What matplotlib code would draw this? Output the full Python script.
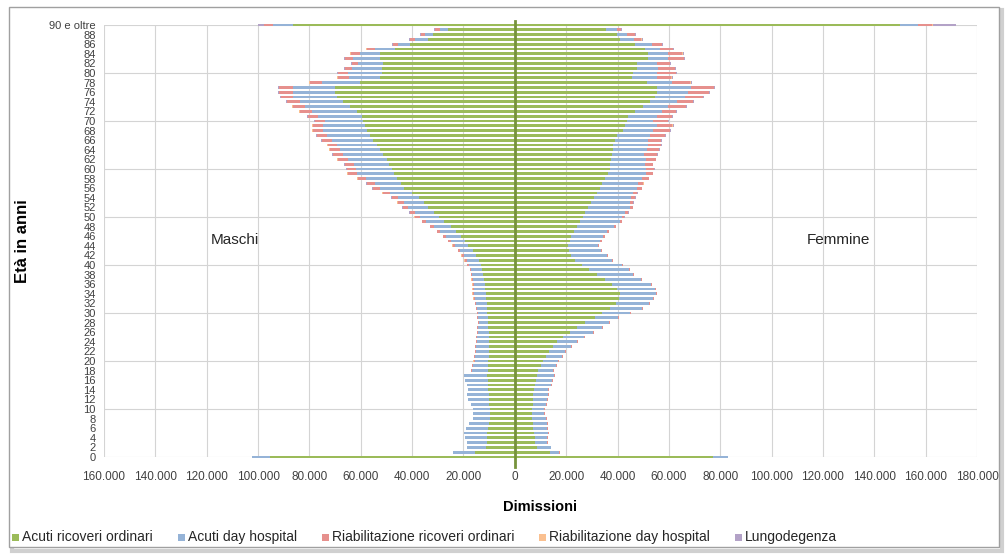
import matplotlib.pyplot as plt
import numpy as np
from matplotlib.patches import Rectangle
from matplotlib.ticker import FuncFormatter

plt.rcParams['font.family'] = ['Liberation Sans', 'DejaVu Sans']

# eta' 0 .. 89, poi "90 e oltre"
eta = list(range(91))
eta_lab = [str(a) if a < 90 else '90 e oltre' for a in eta]

# Maschi
m_acuti_ord = [95300, 15600, 11300, 10900, 10900, 10900, 10500, 10100, 9700, 9700,
               9700, 10100, 10100, 10100, 10500, 10500, 10500, 10900, 10500, 10500,
               10500, 10100, 10100, 10100, 10100, 10100, 10100, 10500, 10500, 10500,
               10900, 10900, 10900, 11300, 11300, 11700, 11700, 12100, 12400, 12800,
               13200, 14000, 15200, 16300, 18300, 19500, 21000, 23000, 24900, 27600,
               29600, 31500, 33800, 35400, 37300, 40100, 43200, 44300, 45900, 47100,
               47800, 49000, 49800, 51300, 52500, 53700, 55200, 56400, 57600, 58400,
               59100, 59500, 61500, 64200, 66900, 69200, 70000, 70000, 60300, 52500,
               51700, 51700, 51300, 52500, 52500, 46700, 40800, 33800, 31900, 26100,
               86400]
m_acuti_dh = [6900, 8400, 7200, 7600, 8400, 8800, 8400, 7600, 6400, 6400,
              6400, 6800, 8000, 8400, 7600, 8000, 8800, 8800, 6200, 5800,
              5100, 5400, 5100, 5100, 4700, 4700, 4300, 3900, 3500, 3900,
              3500, 3900, 4300, 4300, 4700, 4300, 4300, 4300, 4300, 4300,
              4700, 4700, 4700, 5100, 5100, 5400, 5800, 6200, 6600, 7000,
              7400, 7400, 7800, 7800, 8200, 8600, 9300, 10100, 12100, 14400,
              14000, 13600, 15200, 15600, 15600, 15600, 15900, 16700, 17100, 16300,
              14800, 17100, 17500, 17500, 16700, 17100, 16300, 16300, 14800, 12100,
              13200, 11700, 9700, 10500, 7800, 7800, 4700, 5100, 3100, 3100,
              7800]
m_riab_ord = [100, 200, 200, 200, 200, 200, 200, 200, 200, 200,
              200, 200, 200, 200, 200, 200, 200, 200, 400, 400,
              400, 400, 400, 400, 400, 400, 400, 400, 400, 400,
              400, 400, 400, 400, 400, 400, 400, 400, 400, 400,
              800, 800, 800, 800, 800, 1200, 1200, 1200, 1600, 1600,
              1900, 1900, 1900, 2300, 2300, 2700, 2700, 3100, 3100, 3500,
              3500, 3500, 3900, 3900, 3900, 3500, 3900, 3900, 3900, 3900,
              3900, 3900, 4700, 4700, 5100, 4700, 5400, 5400, 4700, 4300,
              3900, 2700, 2300, 3100, 3500, 3100, 1900, 1900, 1600, 1900,
              3400]
m_riab_dh = [0, 0, 0, 0, 0, 0, 0, 0, 0, 0,
             0, 0, 0, 0, 0, 0, 0, 0, 100, 100,
             100, 100, 100, 100, 100, 100, 100, 100, 100, 100,
             100, 100, 100, 100, 100, 100, 100, 100, 100, 100,
             100, 100, 100, 100, 100, 100, 100, 100, 100, 100,
             200, 200, 200, 200, 200, 200, 200, 200, 200, 200,
             200, 200, 200, 200, 200, 200, 200, 200, 200, 200,
             200, 200, 200, 200, 200, 200, 200, 200, 200, 200,
             200, 200, 200, 200, 200, 200, 100, 100, 100, 100,
             200]
m_lungo = [0, 0, 0, 0, 0, 0, 0, 0, 0, 0,
           0, 0, 0, 0, 0, 0, 0, 0, 0, 0,
           0, 0, 0, 0, 0, 0, 0, 0, 0, 0,
           0, 0, 0, 0, 0, 0, 0, 0, 0, 0,
           0, 0, 0, 0, 0, 0, 0, 0, 0, 0,
           100, 100, 100, 100, 100, 100, 100, 100, 100, 100,
           100, 100, 100, 200, 200, 200, 200, 200, 200, 200,
           200, 200, 300, 300, 300, 300, 300, 300, 300, 300,
           300, 300, 300, 300, 300, 300, 300, 300, 300, 300,
           2300]

# Femmine
f_acuti_ord = [77000, 13600, 8600, 7800, 7800, 7400, 7000, 7000, 6600, 6600,
               6600, 7000, 7000, 7000, 7400, 7800, 8200, 8600, 8900, 10100,
               10900, 12100, 13200, 14800, 16300, 18700, 21400, 24100, 27200, 31100,
               33800, 37000, 39300, 40500, 40800, 39700, 37700, 35000, 31900, 28800,
               26100, 23300, 21800, 21000, 20600, 21400, 21800, 23000, 24100, 25300,
               26500, 27200, 28400, 29600, 30700, 31900, 33100, 33800, 35000, 36200,
               37000, 37000, 37300, 37700, 38100, 38100, 38900, 39700, 42000, 42800,
               43600, 44000, 46700, 49800, 52500, 54500, 55200, 55200, 51300, 45500,
               45900, 47500, 47500, 51700, 51700, 50600, 46700, 40800, 39700, 35400,
               150200]
f_acuti_dh = [6100, 3700, 5300, 4900, 4900, 5600, 5600, 5600, 5600, 4900,
              4900, 5300, 5600, 6000, 5600, 6400, 6400, 6800, 6000, 6000,
              5800, 6200, 6200, 7000, 7800, 8200, 8900, 9700, 9300, 8900,
              10900, 12400, 12800, 13200, 14000, 14800, 15200, 14000, 14000, 15600,
              15600, 14400, 14000, 12400, 11700, 11700, 12400, 12800, 14400, 15600,
              15200, 15600, 16300, 15200, 14400, 14000, 14400, 14000, 14400, 14800,
              14000, 13600, 13600, 12800, 13200, 13600, 12800, 12800, 11700, 12400,
              10100, 11300, 10500, 9700, 10500, 11700, 12100, 13600, 10100, 9700,
              9300, 8200, 7800, 7800, 7800, 5800, 6600, 5800, 3900, 4300,
              7000]
f_riab_ord = [100, 200, 200, 200, 200, 200, 200, 200, 200, 200,
              200, 200, 200, 200, 200, 200, 200, 200, 200, 400,
              400, 400, 400, 400, 400, 400, 400, 400, 400, 400,
              400, 400, 400, 400, 400, 400, 400, 400, 400, 400,
              400, 400, 400, 400, 400, 800, 800, 800, 800, 800,
              800, 1200, 1200, 1200, 1600, 1600, 1900, 2300, 2700, 2700,
              3100, 3100, 3900, 4700, 4700, 5100, 5100, 5800, 6600, 6200,
              5800, 5800, 5400, 7000, 6200, 7000, 8200, 8600, 7000, 5800,
              7400, 6600, 5100, 6200, 5800, 5100, 3900, 2700, 3100, 1600,
              5400]
f_riab_dh = [0, 0, 0, 0, 0, 0, 0, 0, 0, 0,
             0, 0, 0, 0, 0, 0, 0, 0, 100, 100,
             100, 100, 100, 100, 100, 100, 100, 100, 100, 100,
             100, 100, 100, 100, 100, 100, 100, 100, 100, 100,
             100, 100, 100, 100, 100, 100, 100, 100, 100, 100,
             200, 200, 200, 200, 200, 200, 200, 200, 200, 200,
             200, 200, 200, 200, 200, 200, 200, 200, 200, 200,
             200, 200, 200, 200, 200, 200, 200, 200, 200, 200,
             200, 200, 200, 200, 200, 200, 100, 100, 100, 100,
             300]
f_lungo = [0, 0, 0, 0, 0, 0, 0, 0, 0, 0,
           0, 0, 0, 0, 0, 0, 0, 0, 0, 0,
           0, 0, 0, 0, 0, 0, 0, 0, 0, 0,
           0, 0, 0, 0, 0, 0, 0, 0, 0, 0,
           0, 0, 0, 0, 0, 0, 0, 0, 0, 0,
           100, 100, 100, 100, 100, 100, 100, 100, 100, 100,
           100, 100, 100, 200, 200, 200, 200, 200, 200, 200,
           200, 200, 300, 300, 300, 300, 300, 300, 300, 300,
           300, 300, 300, 300, 300, 300, 400, 400, 400, 400,
           8800]

serie = ['Acuti ricoveri ordinari', 'Acuti day hospital', 'Riabilitazione ricoveri ordinari',
         'Riabilitazione day hospital', 'Lungodegenza']
colori = ['#9BBB59', '#95B3D7', '#E6908D', '#FAC090', '#B3A2C7']

maschi = [m_acuti_ord, m_acuti_dh, m_riab_ord, m_riab_dh, m_lungo]
femmine = [f_acuti_ord, f_acuti_dh, f_riab_ord, f_riab_dh, f_lungo]

W, H = 1005, 554
fig = plt.figure(figsize=(W/100, H/100), dpi=100)

# cornice con ombra
fig.add_artist(Rectangle((12/W, 1-551/H), 990/W, 541/H, transform=fig.transFigure,
                         facecolor='none', edgecolor='#d0d0d0', lw=3, zorder=-2))
fig.add_artist(Rectangle((9/W, 1-547/H), 990/W, 540/H, transform=fig.transFigure,
                         facecolor='white', edgecolor='#a0a0a0', lw=1, zorder=-1))

ax = fig.add_axes([104/W, 1-457/H, (977-104)/W, (457-25)/H])
ax.set_zorder(1)
ax.patch.set_alpha(0)

y = np.array(eta)
h = 0.55
base_m = np.zeros(len(eta))
base_f = np.zeros(len(eta))
for col, vm, vf in zip(colori, maschi, femmine):
    vm = np.array(vm, dtype=float)
    vf = np.array(vf, dtype=float)
    ax.barh(y, -vm, left=-base_m, height=h, color=col, clip_on=False, zorder=3, linewidth=0)
    ax.barh(y, vf, left=base_f, height=h, color=col, clip_on=False, zorder=3, linewidth=0)
    base_m += vm
    base_f += vf

ax.set_xlim(-160000, 180000)
ax.set_ylim(0, 90)
ax.set_xticks(np.arange(-160000, 180001, 20000))
ax.xaxis.set_major_formatter(FuncFormatter(lambda v, p: '{:,.0f}'.format(abs(v)).replace(',', '.')))
ax.set_yticks(eta[::2])
ax.set_yticklabels(eta_lab[::2])
ax.set_yticks(range(0, 91, 10), minor=True)

ax.tick_params(axis='x', length=0, labelsize=8.5, colors='#404040', pad=10)
ax.tick_params(axis='y', which='major', length=0, labelsize=8, colors='#404040', pad=6)
ax.tick_params(axis='y', which='minor', length=5, color='#c8c8c8', width=0.8)

for s in ax.spines.values():
    s.set_visible(False)

for xv in np.arange(-160000, 180001, 20000):
    ax.axvline(xv, color='#d4d4d4', lw=0.8, zorder=1)
for yv in range(0, 91, 10):
    ax.axhline(yv, color='#d4d4d4', lw=0.8, zorder=1)

ax.plot([0, 0], [-2.0, 90.8], color='#77933C', lw=2.0, zorder=5, clip_on=False)

ax.text(-109000, 45.2, 'Maschi', fontsize=11, color='#262626', ha='center', va='center')
ax.text(126000, 45.2, 'Femmine', fontsize=11, color='#262626', ha='center', va='center')

ax.set_xlabel('Dimissioni', fontsize=10.5, fontweight='bold', labelpad=12)
ax.set_ylabel('Età in anni', fontsize=12, fontweight='bold')
ax.yaxis.set_label_coords(-0.085, 0.5)

# legenda disegnata a mano, tutte le voci sulla stessa linea di base
r = fig.canvas.get_renderer()
x = 12
for nome, col in zip(serie, colori):
    fig.add_artist(Rectangle((x/W, 1-540.5/H), 7/W, 7/H, transform=fig.transFigure,
                             facecolor=col, edgecolor='none'))
    t = fig.text((x+10)/W, 1-541/H, nome, fontsize=10, color='#262626', va='baseline')
    x = x + 10 + t.get_window_extent(r).width + 25

fig.savefig('out.png', dpi=100)
